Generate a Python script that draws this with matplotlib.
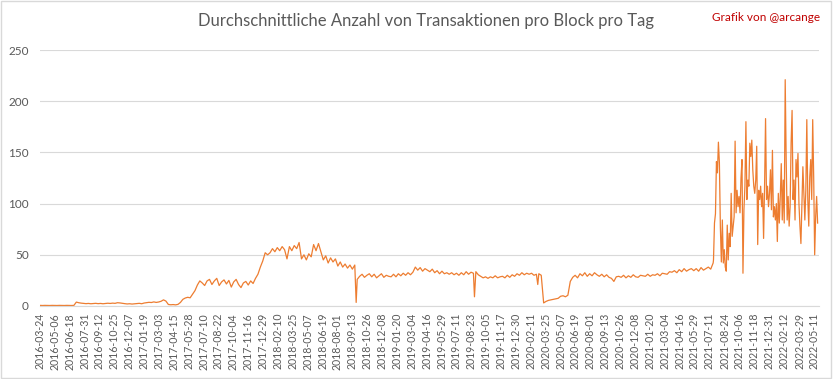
import numpy as np
import pandas as pd
import matplotlib
matplotlib.use("Agg")
import matplotlib.pyplot as plt
from matplotlib.patches import Rectangle

plt.rcParams['font.family'] = ['Lato', 'DejaVu Sans']

# weekly averages (start 2016-03-24, one value per 7 days)
wk_2016 = [0.6, 0.5, 0.6, 0.5, 0.5, 0.6, 0.5, 0.5, 0.6, 0.5, 0.5, 0.6, 0.5, 0.5, 0.6,
           3.8, 3.2, 2.8, 2.6, 2.3, 2.5, 2.2, 2.4, 2.6, 2.3, 2.5, 2.2, 2.4, 2.7, 2.5,
           2.8, 2.6, 3.2, 3.0, 2.6, 2.3, 2.0, 2.2, 1.9, 2.1, 2.4]
wk_2017 = [2.6, 2.2, 2.9, 3.3, 3.6, 3.4, 4.0, 3.5, 3.9, 4.6, 6.0, 4.8,
           1.5, 1.2, 1.4, 1.1, 1.6,
           3.5, 6.5, 7.8, 8.5, 8.0, 11.5, 15.0, 20.5, 24.5,
           22.5, 20.0, 24.5, 26.0, 21.0, 24.5, 27.0, 20.0, 23.5, 25.5, 21.5, 25.0,
           18.5, 23.5, 26.0, 21.0, 18.0, 22.5, 24.0, 20.5, 24.5, 22.0,
           27, 31, 38, 44]
wk_2018 = [52, 50,
           52, 56, 53, 57, 54, 58, 55, 46, 58, 54, 59, 56, 62,
           46, 50, 45, 51, 48, 60, 54, 61,
           53, 45, 49, 42, 47, 43, 46, 39, 43, 38, 41, 37, 40, 36, 40,
           26, 29, 31, 28, 30, 31.5, 28.5, 31, 27.5, 29.5, 31.5, 28, 30, 29]
wk_2019 = [28.5, 31, 28.5, 31.5, 29.5, 32, 30, 32.5, 30.5, 33,
           38, 35, 37.5, 34, 36.5, 35,
           33.5, 36, 32.5, 34.5, 31.5, 34, 31.5, 32.5, 31, 32.5, 30.5, 32, 30, 32.5, 30.5, 33.5, 31, 33,
           32, 33.5, 30.5, 29, 27.5, 28.5, 27, 28.5, 27.5, 29.5, 27.5, 28.5, 29, 27.5, 30, 28, 30.5, 29]
wk_2020 = [31.5, 30, 32.5, 30.5, 32, 31, 32, 30, 31, 31.5, 30,
           3, 4.5, 5.5, 6, 6.5, 7, 7.5, 9.5, 10, 9, 10.5,
           24, 28, 30, 27.5, 31.5, 29.5, 32.5, 29, 31.5, 29.5, 32.5, 30.5, 29, 31, 28.5, 30.5,
           28, 27, 24, 28.5, 29, 28, 30, 27.5,
           29.5, 28, 30.5, 28.5, 28, 30]
wk_2021 = [29.5, 29, 31, 29, 30.5,
           30, 31.5, 29.5, 32, 31.5, 31, 33.5,
           33, 34.5, 32.5, 35.5, 33.5, 36.5, 34, 35.5, 36.5, 34.5, 36.5, 34, 37.5, 35,
           36.5, 38, 36, 42]

# single-day drops
dip_dates = ["2018-09-24", "2019-09-01", "2020-03-02"]
dip_values = [3.5, 9, 21]

# volatile period 2021-07-23 .. 2022-05-20 (about every 3 days)
volatile = [45, 81, 90, 141, 130, 160, 140, 77, 43, 84, 42, 55, 38, 34, 79, 45, 71, 58,
            110, 68, 78, 87, 161, 91, 113, 97, 107, 91, 125, 143, 32, 94, 117, 180, 104,
            123, 117, 159, 146, 162, 133, 117, 110, 123, 156, 60, 113, 104, 117, 97, 110,
            66, 117, 183, 104, 117, 97, 110, 133, 94, 152, 87, 97, 84, 100, 63, 110, 81,
            107, 139, 84, 123, 81, 221, 143, 84, 107, 78, 97, 159, 191, 104, 123, 84, 143,
            126, 149, 100, 78, 61, 97, 136, 110, 84, 113, 182, 104, 78, 126, 143, 104, 182,
            126, 50, 87, 107, 81]

tick_labels = ["2016-03-24", "2016-05-06", "2016-06-18", "2016-07-31", "2016-09-12",
               "2016-10-25", "2016-12-07", "2017-01-19", "2017-03-03", "2017-04-15",
               "2017-05-28", "2017-07-10", "2017-08-22", "2017-10-04", "2017-11-16",
               "2017-12-29", "2018-02-10", "2018-03-25", "2018-05-07", "2018-06-19",
               "2018-08-01", "2018-09-13", "2018-10-26", "2018-12-08", "2019-01-20",
               "2019-03-04", "2019-04-16", "2019-05-29", "2019-07-11", "2019-08-23",
               "2019-10-05", "2019-11-17", "2019-12-30", "2020-02-11", "2020-03-25",
               "2020-05-07", "2020-06-19", "2020-08-01", "2020-09-13", "2020-10-26",
               "2020-12-08", "2021-01-20", "2021-03-04", "2021-04-16", "2021-05-29",
               "2021-07-11", "2021-08-24", "2021-10-06", "2021-11-18", "2021-12-31",
               "2022-02-12", "2022-03-29", "2022-05-11"]

weekly = wk_2016 + wk_2017 + wk_2018 + wk_2019 + wk_2020 + wk_2021
s1 = pd.Series(weekly, index=pd.date_range("2016-03-24", periods=len(weekly), freq="7D"))
s2 = pd.Series(dip_values, index=pd.to_datetime(dip_dates))
s3 = pd.Series(volatile, index=pd.date_range("2021-07-23", "2022-05-20", periods=len(volatile)))
series = pd.concat([s1, s2, s3]).sort_index()

grey = "#595959"
fig = plt.figure(figsize=(8.33, 3.79), dpi=100)
ax = fig.add_axes([40 / 833, 73 / 379, 779 / 833, 256 / 379])

ax.plot(series.index, series.values, color="#ED7D31", lw=0.9)

ax.set_ylim(0, 250)
ax.set_yticks(range(0, 251, 50))
ax.set_xlim(pd.Timestamp("2016-03-24"), pd.Timestamp("2022-05-24"))
ax.set_xticks(pd.to_datetime(tick_labels))
ax.set_xticklabels(tick_labels, rotation=90)
ax.tick_params(axis="x", length=0, pad=5, labelsize=7.6, labelcolor=grey)
ax.tick_params(axis="y", length=0, pad=8, labelsize=8.5, labelcolor=grey)
ax.grid(axis="y", color="#D9D9D9", lw=0.8)
ax.set_axisbelow(True)
for side in ["left", "top", "right"]:
    ax.spines[side].set_visible(False)
ax.spines["bottom"].set_color("#D9D9D9")

fig.text(0.512, 0.945, "Durchschnittliche Anzahl von Transaktionen pro Block pro Tag",
         ha="center", va="center", fontsize=12, color=grey)
fig.text(0.985, 0.955, "Grafik von @arcange", ha="right", va="center",
         fontsize=8.5, color="#C00000")

fig.patches.append(Rectangle((0.001, 0.002), 0.997, 0.995, transform=fig.transFigure,
                             fill=False, edgecolor="#D9D9D9", lw=1))

fig.savefig("out.png", dpi=100)
